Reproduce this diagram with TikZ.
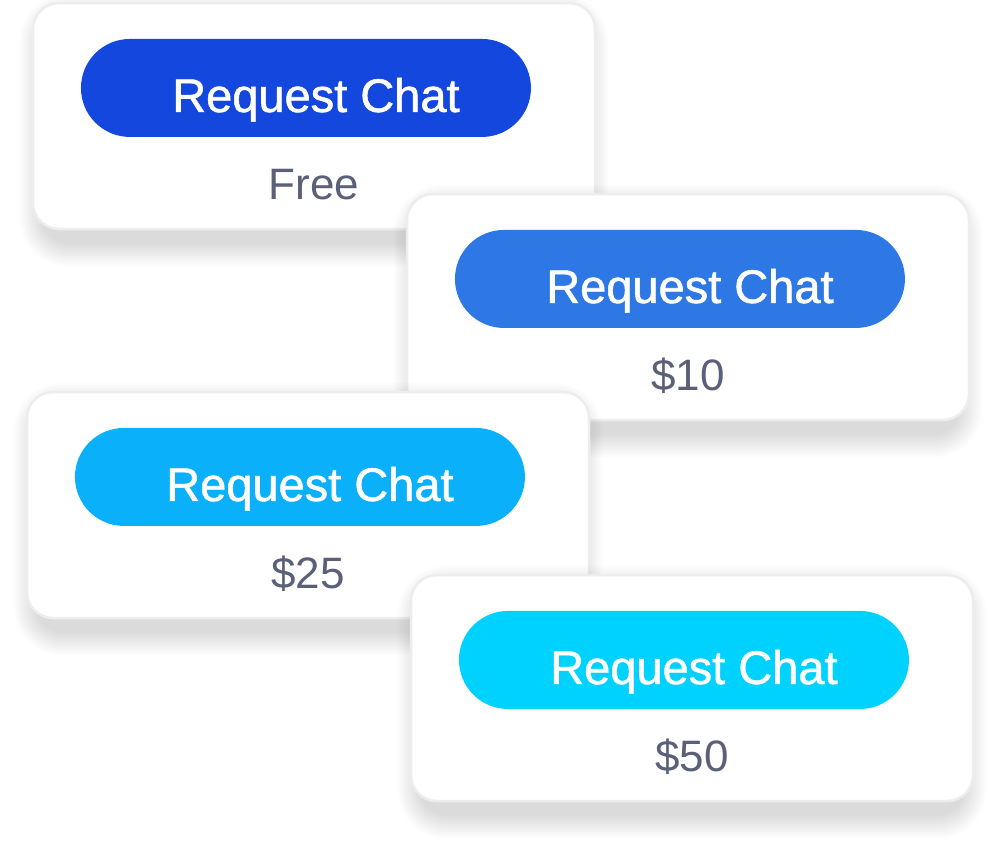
\documentclass[tikz,border=0pt]{standalone}
\usepackage{fontspec}
\setmainfont{Liberation Sans}
\newfontfamily\chatfont[FakeBold=1.2]{Liberation Sans}
\definecolor{pillA}{HTML}{1347DD}
\definecolor{pillB}{HTML}{2E78E6}
\definecolor{pillC}{HTML}{0BB0FA}
\definecolor{pillD}{HTML}{00D2FF}
\definecolor{pricegray}{HTML}{5A6078}
\definecolor{cardline}{HTML}{EDEDED}
\tikzset{
  card/.style={draw=cardline,line width=2.5pt,fill=white,rounded corners=26pt,
    minimum width=562pt,minimum height=226pt,inner sep=0pt},
  shadowlayer/.style={fill=black,fill opacity=0.013},
  pill/.style={fill=#1,rounded corners=49pt,minimum width=450pt,minimum height=98pt,inner sep=0pt},
  pilltext/.style={text=white,anchor=base,font=\chatfont\fontsize{47}{52}\selectfont},
  price/.style={text=pricegray,anchor=base,font=\fontsize{44}{50}\selectfont}
}
\begin{document}
\begin{tikzpicture}[x=1pt,y=-1pt]
\useasboundingbox (0,0) rectangle (999,852);
\foreach \i/\x/\y/\col/\cost in {1/314/116/pillA/Free,2/688/307/pillB/\$10,3/308/505/pillC/\$25,4/692/688/pillD/\$50}{
  % soft shadow under the card
  \foreach \k in {0,...,11}
    \fill[shadowlayer,rounded corners=26pt+2*\k pt]
      ({\x-272-2*\k},{\y-100-2*\k}) rectangle ({\x+272+2*\k},{\y+128+2*\k});
  \node[card] (card\i) at (\x,\y) {};
  \node[pill=\col,anchor=north west] (pill\i) at ([xshift=49pt,yshift=-37pt]card\i.north west) {};
  \node[pilltext] (label\i) at ([xshift=10pt,yshift=-24pt]pill\i.center) {Request Chat};
  \node[price] (price\i) at ([yshift=-198pt]card\i.north) {\cost};
}
\end{tikzpicture}
\end{document}
